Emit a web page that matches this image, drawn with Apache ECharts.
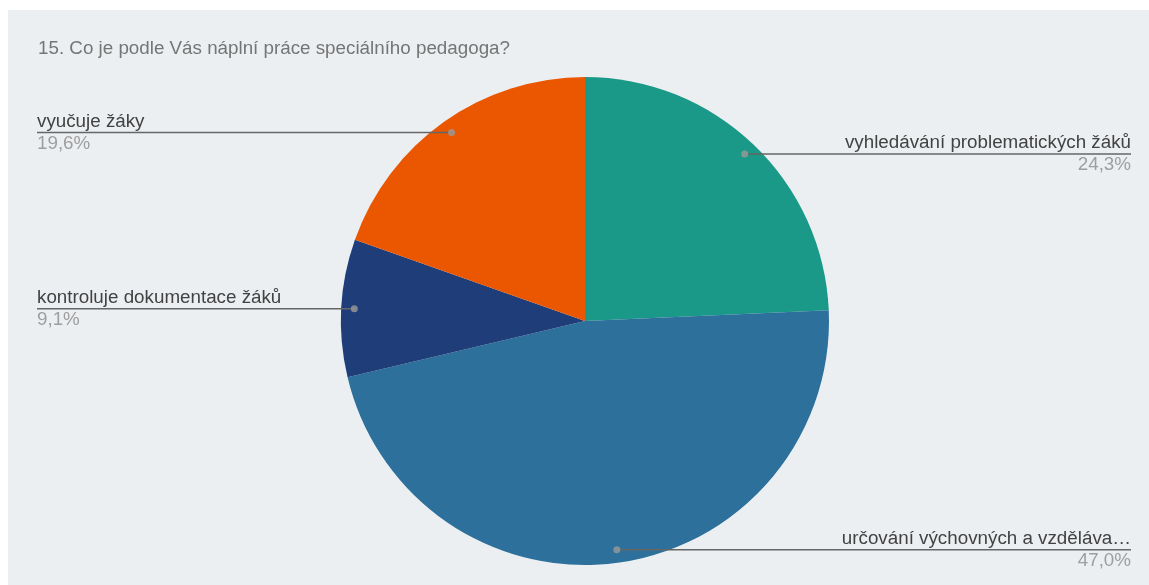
<!DOCTYPE html>
<html>
<head>
<meta charset="utf-8">
<script src="https://cdn.jsdelivr.net/npm/echarts@6/dist/echarts.min.js"></script>
<style>
html, body { margin: 0; padding: 0; background: #ffffff; width: 1149px; height: 585px; overflow: hidden; }
#chart { position: absolute; left: 8px; top: 10px; width: 1141px; height: 575px; }
</style>
</head>
<body>
<div id="chart"></div>
<script>
// ---- data ----
const titleText = '15. Co je podle Vás náplní práce speciálního pedagoga?';
const categories = [
  'vyhledávání problematických žáků',
  'určování výchovných a vzděláva…',
  'kontroluje dokumentace žáků',
  'vyučuje žáky'
];
const percentValues = [24.3, 47.0, 9.1, 19.6];

// ---- styles ----
const sliceColors = ['#1a9988', '#2c709b', '#1f3d78', '#ea5700'];
const FONT = '"Liberation Sans", Arial, sans-serif';
const CX = 577, CY = 311, R = 244, R_DOT = 231;
const LEFT_EDGE = 29, RIGHT_EDGE = 1141 - 18;

const chart = echarts.init(document.getElementById('chart'), null, { renderer: 'canvas' });

const total = percentValues.reduce((a, b) => a + b, 0);
const mids = [];
let acc = 0;
percentValues.forEach(v => { mids.push(acc + v / 2); acc += v; });

const fmtPct = v => v.toFixed(1).replace('.', ',') + '%';

const pieData = categories.map((c, i) => ({ name: c, value: percentValues[i] }));

const option = {
  backgroundColor: '#eceff1',
  animation: false,
  title: {
    text: titleText,
    left: LEFT_EDGE - 4,
    top: 24,
    textStyle: { fontFamily: FONT, fontSize: 18.8, fontWeight: 'normal', color: '#757575' }
  },
  polar: { center: [CX, CY], radius: R_DOT },
  angleAxis: { type: 'value', min: 0, max: total, startAngle: 90, clockwise: true, show: false },
  radiusAxis: { type: 'value', min: 0, max: 1, show: false },
  series: [
    {
      type: 'pie',
      center: [CX, CY],
      radius: R,
      startAngle: 90,
      clockwise: true,
      silent: true,
      data: pieData.map((d, i) => ({ ...d, itemStyle: { color: sliceColors[i] } })),
      label: { show: false },
      labelLine: { show: false },
      itemStyle: { borderWidth: 0 }
    },
    {
      type: 'pie',
      center: [CX, CY],
      radius: R_DOT,
      startAngle: 90,
      clockwise: true,
      silent: true,
      z: 5,
      data: pieData,
      itemStyle: { color: 'rgba(0,0,0,0)', borderWidth: 0 },
      label: {
        show: true,
        alignTo: 'edge',
        edgeDistance: 20,
        overflow: 'none',
        formatter: p => '{n|' + p.name + '}\n{p|' + fmtPct(p.value) + '}',
        rich: {
          n: { fontFamily: FONT, fontSize: 18.8, color: '#424242', lineHeight: 22 },
          p: { fontFamily: FONT, fontSize: 18.8, color: '#9e9e9e', lineHeight: 22 }
        }
      },
      labelLine: {
        show: true,
        length: 0,
        length2: 10,
        smooth: false,
        lineStyle: { color: '#666666', width: 1.5 }
      },
      labelLayout: function (params) {
        const pts = params.labelLinePoints;
        if (!pts) return {};
        const isLeft = pts[0][0] < CX;
        const x = isLeft ? LEFT_EDGE : RIGHT_EDGE;
        const y = pts[0][1];
        return {
          x: x,
          y: y,
          align: isLeft ? 'left' : 'right',
          verticalAlign: 'middle',
          labelLinePoints: [[pts[0][0], y], [pts[0][0], y], [x, y]]
        };
      }
    },
    {
      type: 'scatter',
      coordinateSystem: 'polar',
      z: 10,
      silent: true,
      symbol: 'circle',
      symbolSize: 7,
      itemStyle: { color: '#9a9a9a' },
      data: mids.map(m => [1, m])
    }
  ]
};
chart.setOption(option);
</script>
</body>
</html>
